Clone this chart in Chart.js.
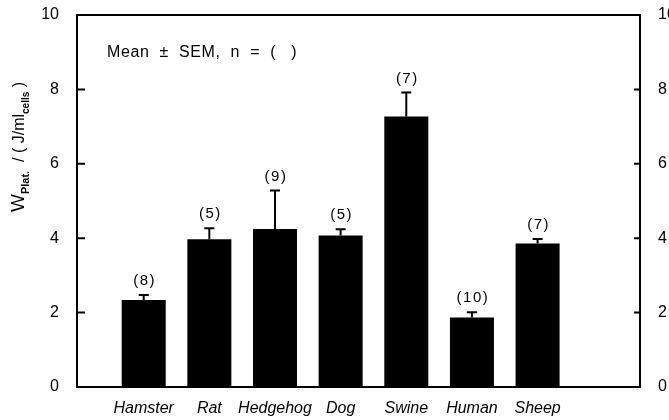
<!DOCTYPE html>
<html>
<head>
<meta charset="utf-8">
<script src="https://cdn.jsdelivr.net/npm/chart.js@4/dist/chart.umd.min.js"></script>
<style>
html,body{margin:0;padding:0;background:#fff;}
#c{display:block;}
</style>
</head>
<body>
<canvas id="c" width="669" height="420"></canvas>
<script>
const categories = ['Hamster', 'Rat', 'Hedgehog', 'Dog', 'Swine', 'Human', 'Sheep'];
const means = [2.34, 3.97, 4.25, 4.07, 7.27, 1.87, 3.86];
const sem = [0.13, 0.30, 1.03, 0.17, 0.65, 0.14, 0.12];
const nCounts = [8, 5, 9, 5, 7, 10, 7];
const yTicks = [0, 2, 4, 6, 8, 10];
const annotation = 'Mean  \u00B1  SEM,  n  =  (   )';

const FONT = '"Liberation Sans", Arial, Helvetica, sans-serif';

const decorPlugin = {
  id: 'decor',
  afterDatasetsDraw(chart) {
    const ctx = chart.ctx;
    const xs = chart.scales.x, ys = chart.scales.y;
    const area = chart.chartArea;
    ctx.save();
    ctx.strokeStyle = '#000';
    ctx.fillStyle = '#000';
    ctx.lineWidth = 2;
    // error bars and n labels
    ctx.font = '15px ' + FONT;
    ctx.textAlign = 'center';
    ctx.textBaseline = 'middle';
    if ('letterSpacing' in ctx) ctx.letterSpacing = '1.5px';
    means.forEach((m, i) => {
      const x = xs.getPixelForValue(i);
      const y0 = ys.getPixelForValue(m);
      const y1 = ys.getPixelForValue(m + sem[i]);
      ctx.beginPath();
      ctx.moveTo(x, y0);
      ctx.lineTo(x, y1);
      ctx.moveTo(x - 5, y1);
      ctx.lineTo(x + 5, y1);
      ctx.stroke();
      ctx.fillText('(' + nCounts[i] + ')', x + 1, y1 - 14);
    });
    // top frame line
    ctx.beginPath();
    ctx.moveTo(area.left - 1, area.top);
    ctx.lineTo(area.right + 1, area.top);
    ctx.stroke();
    // inward ticks
    yTicks.forEach(v => {
      const y = ys.getPixelForValue(v);
      ctx.beginPath();
      ctx.moveTo(area.left, y);
      ctx.lineTo(area.left + 8, y);
      ctx.moveTo(area.right, y);
      ctx.lineTo(area.right - 6, y);
      ctx.stroke();
    });
    // annotation
    ctx.font = '16px ' + FONT;
    ctx.textAlign = 'left';
    ctx.textBaseline = 'alphabetic';
    if ('letterSpacing' in ctx) ctx.letterSpacing = '0.6px';
    ctx.fillText(annotation, 107, 57);
    if ('letterSpacing' in ctx) ctx.letterSpacing = '0px';
    // y axis title with subscripts
    ctx.translate(24, 212);
    ctx.rotate(-Math.PI / 2);
    const parts = [
      {t: 'W', f: '19px', dy: 0},
      {t: 'Plat.', f: 'bold 11px', dy: 5},
      {t: '  / ( J/ml', f: '16px', dy: 0},
      {t: 'cells', f: 'bold 10px', dy: 5},
      {t: ' )', f: '16px', dy: 0}
    ];
    let px = 0;
    parts.forEach(p => {
      ctx.font = p.f + ' ' + FONT;
      ctx.fillText(p.t, px, p.dy);
      px += ctx.measureText(p.t).width;
    });
    ctx.restore();
  }
};

const noPad = s => { s.paddingTop = 0; s.paddingBottom = 0; };

new Chart(document.getElementById('c'), {
  type: 'bar',
  data: {
    datasets: [{
      data: means.map((m, i) => ({x: i, y: m})),
      backgroundColor: '#000',
      borderWidth: 0,
      barPercentage: 0.838,
      categoryPercentage: 0.8,
      yAxisID: 'y'
    }]
  },
  options: {
    responsive: false,
    animation: false,
    devicePixelRatio: 1,
    layout: {padding: {top: 15, left: 0, right: 0, bottom: 0}},
    plugins: {legend: {display: false}, tooltip: {enabled: false}},
    scales: {
      x: {
        type: 'linear',
        offset: false,
        min: -1.016,
        max: 7.56,
        grid: {display: false, offset: false},
        border: {display: true, color: '#000', width: 2},
        afterBuildTicks: s => { s.ticks = categories.map((c, i) => ({value: i})); },
        afterFit: s => { s.height = 33; s.paddingLeft = 0; s.paddingRight = 0; },
        ticks: {
          callback: v => categories[v] !== undefined ? categories[v] : '',
          color: '#000',
          font: {family: FONT, size: 16, style: 'italic'},
          padding: 4,
          maxRotation: 0,
          autoSkip: false
        }
      },
      y: {
        type: 'linear',
        position: 'left',
        min: 0,
        max: 10,
        grid: {display: false},
        border: {display: true, color: '#000', width: 2},
        afterBuildTicks: s => { s.ticks = yTicks.map(v => ({value: v})); },
        afterFit: s => { s.width = 77; noPad(s); },
        ticks: {color: '#000', font: {family: FONT, size: 16}, padding: 10}
      },
      y2: {
        type: 'linear',
        position: 'right',
        min: 0,
        max: 10,
        grid: {display: false},
        border: {display: true, color: '#000', width: 2},
        afterBuildTicks: s => { s.ticks = yTicks.map(v => ({value: v})); },
        afterFit: s => { s.width = 29; noPad(s); },
        ticks: {color: '#000', font: {family: FONT, size: 16}, padding: 10}
      }
    }
  },
  plugins: [decorPlugin]
});
</script>
</body>
</html>
